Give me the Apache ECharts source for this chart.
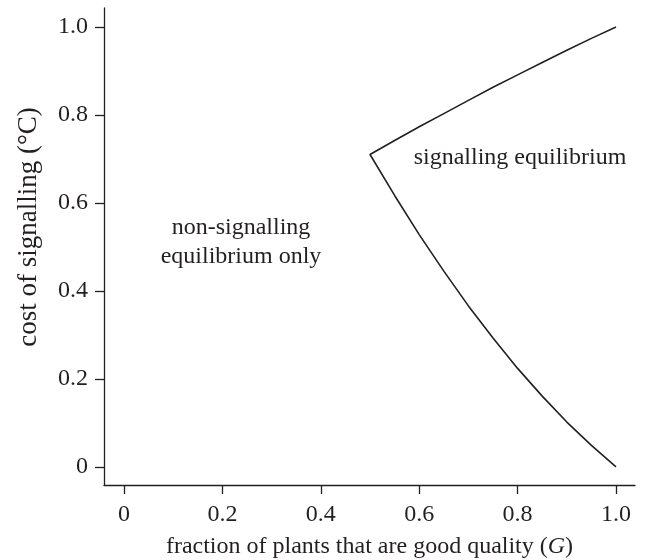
<!DOCTYPE html>
<html>
<head>
<meta charset="utf-8">
<script src="https://cdn.jsdelivr.net/npm/echarts@6/dist/echarts.min.js"></script>
<style>html,body{margin:0;padding:0;background:#fff;}#c{width:646px;height:560px;}</style>
</head>
<body>
<div id="c"></div>
<script>
// Data
var tickValues = [0, 0.2, 0.4, 0.6, 0.8, 1.0];
var tickLabels = ['0', '0.2', '0.4', '0.6', '0.8', '1.0'];
// upper branch (from top right to the cusp)
var upperX = [1.0, 0.95, 0.9, 0.85, 0.8, 0.75, 0.7, 0.65, 0.6, 0.55, 0.5];
var upperY = [1.0, 0.974, 0.947, 0.919, 0.891, 0.863, 0.833, 0.803, 0.773, 0.742, 0.71];
// lower branch (from the cusp to bottom right)
var lowerX = [0.55, 0.6, 0.65, 0.7, 0.75, 0.8, 0.85, 0.9, 0.95, 1.0];
var lowerY = [0.617, 0.528, 0.445, 0.366, 0.293, 0.224, 0.161, 0.102, 0.049, 0.0];
var xTitle = 'fraction of plants that are good quality ({i|G})';
var yTitle = 'cost of signalling (°C)';
var regionLabels = ['non-signalling\nequilibrium only', 'signalling equilibrium'];

var curve = [];
for (var i = 0; i < upperX.length; i++) curve.push([upperX[i], upperY[i]]);
for (var j = 0; j < lowerX.length; j++) curve.push([lowerX[j], lowerY[j]]);

var FONT = '"Liberation Serif", "Times New Roman", serif';
var INK = '#231f20';
var chart = echarts.init(document.getElementById('c'), null, {renderer: 'canvas'});
var axisCommon = {
  type: 'value',
  axisLine: {show: true, onZero: false, lineStyle: {color: INK, width: 1.3}},
  axisTick: {show: true, length: 9, customValues: tickValues, lineStyle: {color: INK, width: 1.3}},
  splitLine: {show: false},
  axisLabel: {
    customValues: tickValues,
    color: INK, fontFamily: FONT, fontSize: 24,
    formatter: function (v) {
      for (var k = 0; k < tickValues.length; k++) if (Math.abs(tickValues[k] - v) < 1e-6) return tickLabels[k];
      return '';
    }
  }
};
chart.setOption({
  animation: false,
  backgroundColor: '#ffffff',
  grid: {left: 104, right: 11, top: 8, bottom: 75, containLabel: false, outerBoundsMode: 'none'},
  xAxis: echarts.util.merge({
    min: -0.0407, max: 1.0386,
    name: xTitle, nameLocation: 'middle', nameGap: 50,
    nameTextStyle: {color: INK, fontFamily: FONT, fontSize: 24, rich: {i: {fontStyle: 'italic', fontFamily: FONT, fontSize: 24, color: INK}}},
    axisLabel: {margin: 18}
  }, axisCommon, false),
  yAxis: echarts.util.merge({
    min: -0.041, max: 1.043,
    axisLabel: {margin: 16}
  }, axisCommon, false),
  graphic: [
    {type: 'text', x: 29, y: 227, rotation: Math.PI / 2,
     style: {text: yTitle, font: '27px ' + FONT, fill: INK, align: 'center', verticalAlign: 'middle'}},
    {type: 'text', x: 241, y: 242,
     style: {text: regionLabels[0], font: '24px ' + FONT, fill: INK, align: 'center', verticalAlign: 'middle', lineHeight: 29}},
    {type: 'text', x: 520, y: 158,
     style: {text: regionLabels[1], font: '24px ' + FONT, fill: INK, align: 'center', verticalAlign: 'middle'}}
  ],
  series: [{
    type: 'line', data: curve, showSymbol: false, smooth: false,
    lineStyle: {color: INK, width: 1.6}
  }]
});
</script>
</body>
</html>
